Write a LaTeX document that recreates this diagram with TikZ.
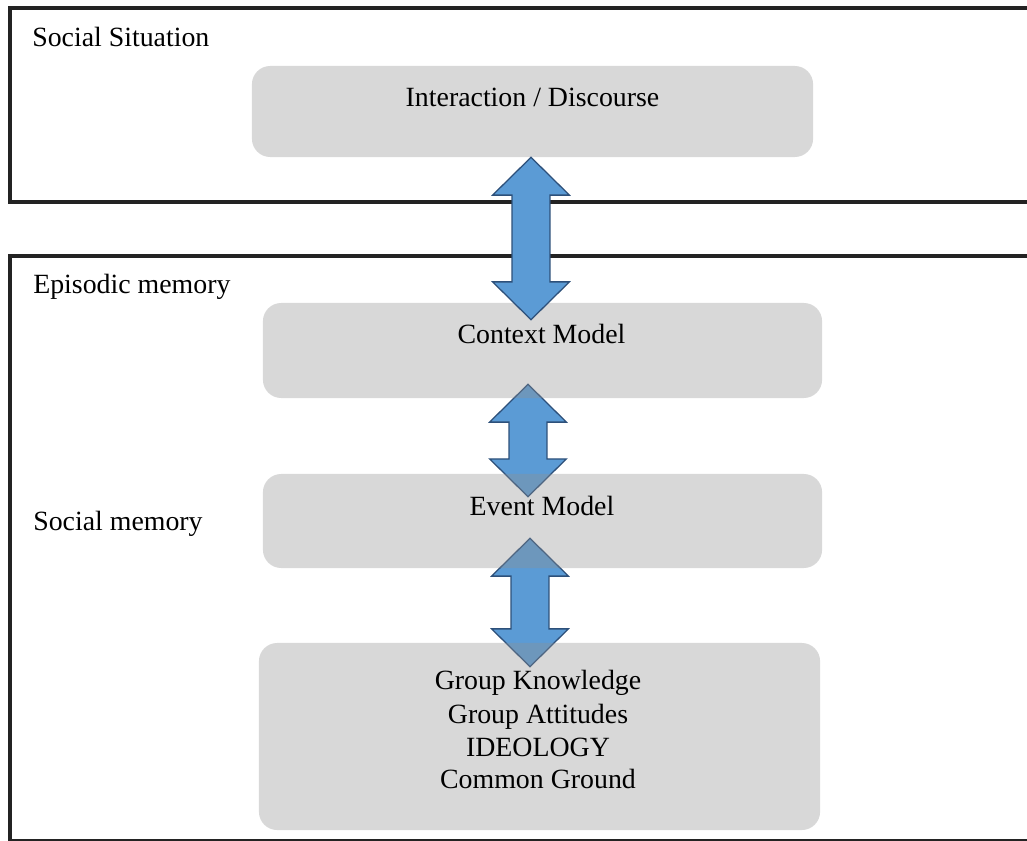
\documentclass[tikz,border=0pt]{standalone}
\usepackage{fontspec}
\setmainfont{Liberation Serif}
\usetikzlibrary{calc,backgrounds}
\definecolor{boxfill}{RGB}{144,144,144}
\definecolor{arrfill}{RGB}{91,155,213}
\definecolor{arrline}{RGB}{45,80,122}
\definecolor{framecol}{RGB}{35,35,35}
\newcommand\dblarrow[2]{%
  \filldraw[blarrow] let \p1=(#1), \p2=(#2) in
    (\x1,\y1) -- ++(27.3pt,-26.9pt) -- ++(-13.8pt,0pt)
    -- (\x1+13.5pt,\y2+26.9pt) -- ++(13.8pt,0pt) -- (\x1,\y2)
    -- ++(-27.3pt,26.9pt) -- ++(13.8pt,0pt)
    -- (\x1-13.5pt,\y1-26.9pt) -- ++(-13.8pt,0pt) -- cycle;}
\begin{document}
\begin{tikzpicture}[x=0.025cm,y=-0.025cm,
  frame/.style={draw=framecol,line width=2.3pt},
  innerbox/.style={fill=boxfill,fill opacity=0.35,draw=none,rounded corners=13pt,inner sep=0pt},
  txt/.style={font=\fontsize{19.8}{23.5}\selectfont,anchor=base,inner sep=0pt},
  lbl/.style={font=\fontsize{19.8}{23.5}\selectfont,anchor=base west,inner sep=0pt},
  blarrow/.style={fill=arrfill,draw=arrline,line width=0.9pt,line join=miter}]
\clip (0,0) rectangle (1027,841);
% outer frames
\draw[frame] (10,8) rectangle (1045,202);
\draw[frame] (10,256) rectangle (1045,840.5);
% inner boxes
\node[innerbox,minimum width=14.025cm,minimum height=2.275cm] (inter) at (532.5,111.5) {};
\node[innerbox,minimum width=13.975cm,minimum height=2.375cm] (ctx) at (542.5,350.5) {};
\node[innerbox,minimum width=13.975cm,minimum height=2.35cm] (evt) at (542.5,521) {};
\node[innerbox,minimum width=14.025cm,minimum height=4.675cm] (grp) at (539.5,736.5) {};
% section labels
\node[lbl] (lsit) at (32,47) {Social Situation};
\node[lbl] (lepi) at (33,293) {Episodic memory};
\node[lbl] (lsoc) at (33,530) {Social memory};
% box texts
\node[txt] (tinter) at (532.5,107) {Interaction / Discourse};
\node[txt] (tctx) at (541.5,343) {Context Model};
\node[txt] (tevt) at (542,515) {Event Model};
\node[txt] (tg1) at (538,689) {Group Knowledge};
\node[txt] (tg2) at (538,723) {Group Attitudes};
\node[txt] (tg3) at (538,756) {IDEOLOGY};
\node[txt] (tg4) at (538,788) {Common Ground};
% arrow end points
\coordinate (a1t) at ($(inter.south)+(-1.5,0)$);
\coordinate (a1b) at ($(ctx.north)+(-11.5,17)$);
\coordinate (a2t) at ($(ctx.south)+(-14.5,-14)$);
\coordinate (a2b) at ($(evt.north)+(-14.5,23)$);
\coordinate (a3t) at ($(evt.south)+(-12.5,-30)$);
\coordinate (a3b) at ($(grp.north)+(-9.5,24)$);
\begin{scope}[on background layer]
  \fill[white] (0,0) rectangle (1027,841);
  \dblarrow{a2t}{a2b}
  \dblarrow{a3t}{a3b}
\end{scope}
\dblarrow{a1t}{a1b}
\end{tikzpicture}
\end{document}
